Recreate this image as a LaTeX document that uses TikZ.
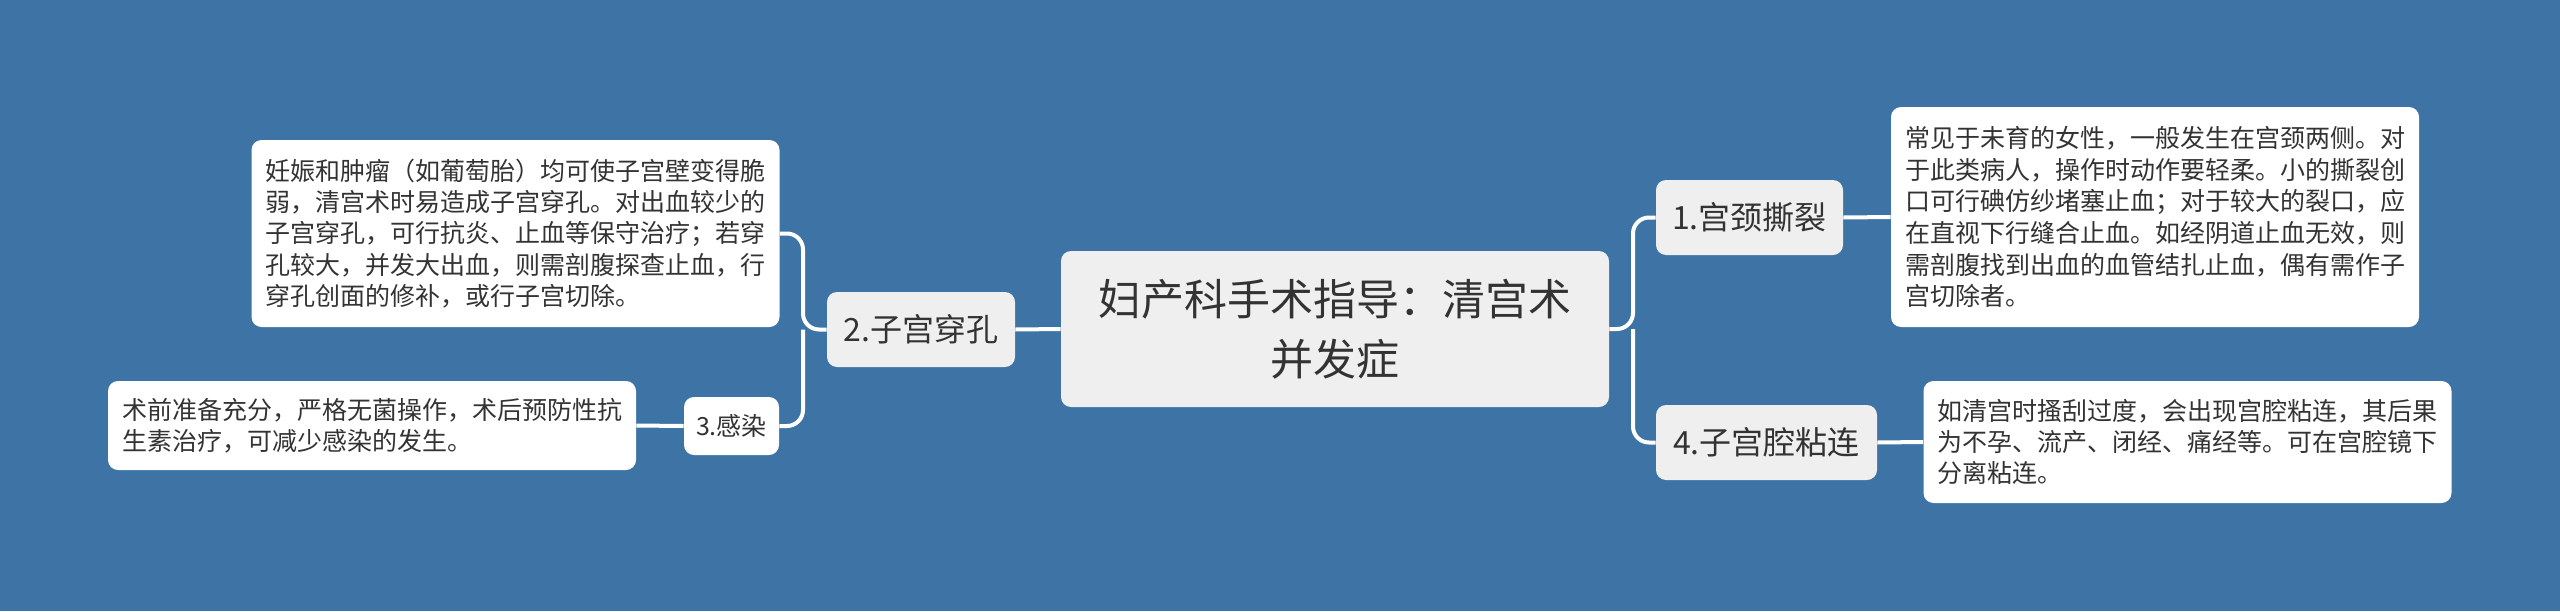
\documentclass[tikz,border=0pt]{standalone}
\usepackage{fontspec}
\setmainfont{Noto Sans CJK SC}
\definecolor{bgblue}{HTML}{3D73A5}
\definecolor{nodegray}{HTML}{EFEFEF}
\definecolor{txt}{HTML}{333333}
\begin{document}
\begin{tikzpicture}[x=0.5pt,y=-0.5pt,
  desc/.style={fill=white, rounded corners=5pt, align=left, text width=250pt,
    inner xsep=7pt, inner ysep=0pt, text=txt,
    font=\fontsize{12.5pt}{15.6pt}\selectfont},
  topic/.style={fill=nodegray, rounded corners=5pt, inner sep=0pt, text=txt,
    minimum height=37.5pt, font=\fontsize{16pt}{19pt}\selectfont},
  small/.style={fill=white, rounded corners=5pt, inner sep=0pt, text=txt,
    font=\fontsize{12.5pt}{15pt}\selectfont},
  central/.style={fill=nodegray, rounded corners=5pt, inner sep=0pt, text=txt,
    align=center, font=\fontsize{21.5pt}{30pt}\selectfont},
  conn/.style={draw=white, line width=2pt, rounded corners=8pt}]
\fill[bgblue] (0,0) rectangle (2560,611);
\useasboundingbox (0,0) rectangle (2560,611);

% central
\node[central, minimum width=274pt, minimum height=78pt] (c) at (1335,329)
  {妇产科手术指导：清宫术\\并发症};

% right branch
\node[topic, minimum width=93.5pt] (n1) at (1749.5,217.5) {1.宫颈撕裂};
\node[topic, minimum width=110.5pt] (n4) at (1766.5,442.5) {4.子宫腔粘连};
\node[desc, minimum height=110pt, font=\fontsize{12.5pt}{15.8pt}\selectfont] (d1) at (2155,217)
  {常见于未育的女性，一般发生在宫颈两侧。对\\
   于此类病人，操作时动作要轻柔。小的撕裂创\\
   口可行碘仿纱堵塞止血；对于较大的裂口，应\\
   在直视下行缝合止血。如经阴道止血无效，则\\
   需剖腹找到出血的血管结扎止血，偶有需作子\\
   宫切除者。};
\node[desc, minimum height=61pt] (d4) at (2187.5,442)
  {如清宫时搔刮过度，会出现宫腔粘连，其后果\\
   为不孕、流产、闭经、痛经等。可在宫腔镜下\\
   分离粘连。};

% left branch
\node[topic, minimum width=94pt] (n2) at (921,329.5) {2.子宫穿孔};
\node[small, minimum width=47.5pt, minimum height=29pt] (n3) at (731.5,426) {3.感染};
\node[desc, minimum height=93.5pt] (d2) at (515.5,233.5)
  {妊娠和肿瘤（如葡萄胎）均可使子宫壁变得脆\\
   弱，清宫术时易造成子宫穿孔。对出血较少的\\
   子宫穿孔，可行抗炎、止血等保守治疗；若穿\\
   孔较大，并发大出血，则需剖腹探查止血，行\\
   穿孔创面的修补，或行子宫切除。};
\node[desc, minimum height=44.5pt] (d3) at (372,425.5)
  {术前准备充分，严格无菌操作，术后预防性抗\\
   生素治疗，可减少感染的发生。};

% connectors
\coordinate (jr) at (1633,329);
\coordinate (jl) at (803,329.5);
\draw[conn] (c.east) -- (jr) |- (n1.west);
\draw[conn] (jr) |- (n4.west);
\draw[conn] (n1.east) -- (d1.west);
\draw[conn] (n4.east) -- (d4.west);
\draw[conn] (c.west) -- (n2.east);
\draw[conn] (n2.west) -- (jl) |- (d2.east);
\draw[conn] (jl) |- (n3.east);
\draw[conn] (n3.west) -- (d3.east);
\end{tikzpicture}
\end{document}
